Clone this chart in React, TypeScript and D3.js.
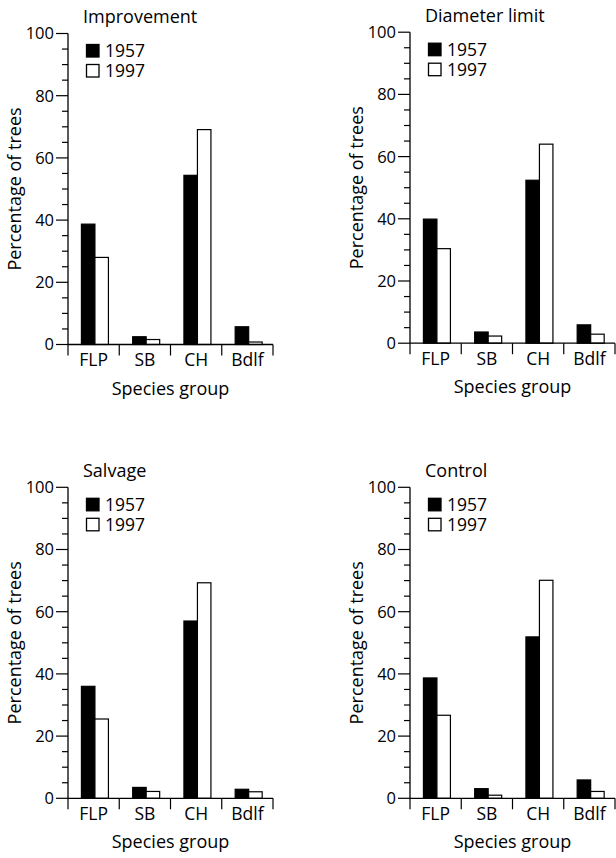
import React, { useRef, useEffect } from 'react';
import * as d3 from 'd3';

const categories = ['FLP', 'SB', 'CH', 'Bdlf'];
const years = ['1957', '1997'];
const yTicks = [0, 20, 40, 60, 80, 100];

const improvement1957 = [38.7, 2.5, 54.4, 5.7];
const improvement1997 = [28.0, 1.6, 69.1, 0.8];
const diameter1957 = [39.9, 3.6, 52.4, 5.9];
const diameter1997 = [30.4, 2.3, 64.0, 2.9];
const salvage1957 = [36.0, 3.5, 57.0, 2.9];
const salvage1997 = [25.5, 2.2, 69.3, 2.1];
const control1957 = [38.7, 3.1, 51.9, 5.9];
const control1997 = [26.7, 1.0, 70.1, 2.2];

const panels = [
  { title: 'Improvement', a: improvement1957, b: improvement1997, x0: 68, y0: 344.5 },
  { title: 'Diameter limit', a: diameter1957, b: diameter1997, x0: 410, y0: 343.2 },
  { title: 'Salvage', a: salvage1957, b: salvage1997, x0: 68, y0: 798.3 },
  { title: 'Control', a: control1957, b: control1997, x0: 410, y0: 798.3 },
];

const FONT = '"Open Sans", sans-serif';

const App: React.FC = () => {
  const ref = useRef<SVGSVGElement>(null);

  useEffect(() => {
    const svg = d3.select(ref.current);
    svg.selectAll('*').remove();
    const plotH = 311;
    const plotW = 205;
    const barW = 13.5;

    panels.forEach(p => {
      const g = svg.append('g').attr('transform', `translate(${p.x0},${p.y0 - plotH})`);

      const y = d3.scaleLinear().domain([0, 100]).range([plotH, 0]);
      const x = d3.scaleBand().domain(categories).range([0, plotW]).padding(0);

      // bars, 1957 black then 1997 white
      categories.forEach((c, i) => {
        const cx = x(c)! + x.bandwidth() / 2 + 1.3;
        [p.a[i], p.b[i]].forEach((v, j) => {
          g.append('rect')
            .attr('x', cx - barW + j * barW)
            .attr('y', y(v))
            .attr('width', barW)
            .attr('height', plotH - y(v))
            .attr('fill', j === 0 ? '#000' : '#fff')
            .attr('stroke', '#000')
            .attr('stroke-width', 1.2);
        });
      });

      // y axis with minor ticks every 5
      g.append('line')
        .attr('x1', 0).attr('x2', 0).attr('y1', 0).attr('y2', plotH)
        .attr('stroke', '#000').attr('stroke-width', 1.3);
      d3.range(0, 101, 5).forEach(t => {
        const major = t % 20 === 0;
        g.append('line')
          .attr('x1', major ? -12 : -6).attr('x2', 0)
          .attr('y1', y(t)).attr('y2', y(t))
          .attr('stroke', '#000').attr('stroke-width', 1.2);
      });
      yTicks.forEach(t => {
        g.append('text')
          .attr('x', -14)
          .attr('y', y(t))
          .attr('dy', '0.36em')
          .attr('text-anchor', 'end')
          .attr('font-family', FONT)
          .attr('font-size', 16.5)
          .text(t);
      });

      // x axis, ticks at category edges
      g.append('line')
        .attr('x1', 0).attr('x2', plotW).attr('y1', plotH).attr('y2', plotH)
        .attr('stroke', '#000').attr('stroke-width', 1.3);
      categories.concat(['']).forEach((c, i) => {
        const tx = i < categories.length ? x(c)! : plotW;
        g.append('line')
          .attr('x1', tx).attr('x2', tx).attr('y1', plotH).attr('y2', plotH + 11)
          .attr('stroke', '#000').attr('stroke-width', 1.2);
      });
      categories.forEach(c => {
        g.append('text')
          .attr('x', x(c)! + x.bandwidth() / 2)
          .attr('y', plotH + 21.5)
          .attr('text-anchor', 'middle')
          .attr('font-family', FONT)
          .attr('font-size', 17.5)
          .text(c);
      });

      g.append('text')
        .attr('x', plotW / 2)
        .attr('y', plotH + 50)
        .attr('text-anchor', 'middle')
        .attr('font-family', FONT)
        .attr('font-size', 18)
        .text('Species group');

      g.append('text')
        .attr('transform', `translate(-47,${plotH / 2}) rotate(-90)`)
        .attr('text-anchor', 'middle')
        .attr('font-family', FONT)
        .attr('font-size', 18)
        .text('Percentage of trees');

      g.append('text')
        .attr('x', 15)
        .attr('y', -10.5)
        .attr('font-family', FONT)
        .attr('font-size', 18)
        .text(p.title);

      // legend
      years.forEach((yr, j) => {
        g.append('rect')
          .attr('x', 18.5)
          .attr('y', 11 + j * 20)
          .attr('width', 12.5)
          .attr('height', 12.5)
          .attr('fill', j === 0 ? '#000' : '#fff')
          .attr('stroke', '#000')
          .attr('stroke-width', 1.3);
        g.append('text')
          .attr('x', 37)
          .attr('y', 23.5 + j * 20)
          .attr('font-family', FONT)
          .attr('font-size', 17.5)
          .text(yr);
      });
    });
  }, []);

  return (
    <svg
      ref={ref}
      width={616}
      height={858}
      style={{ position: 'absolute', left: 0, top: 0, background: '#fff' }}
    />
  );
};

export default App;
